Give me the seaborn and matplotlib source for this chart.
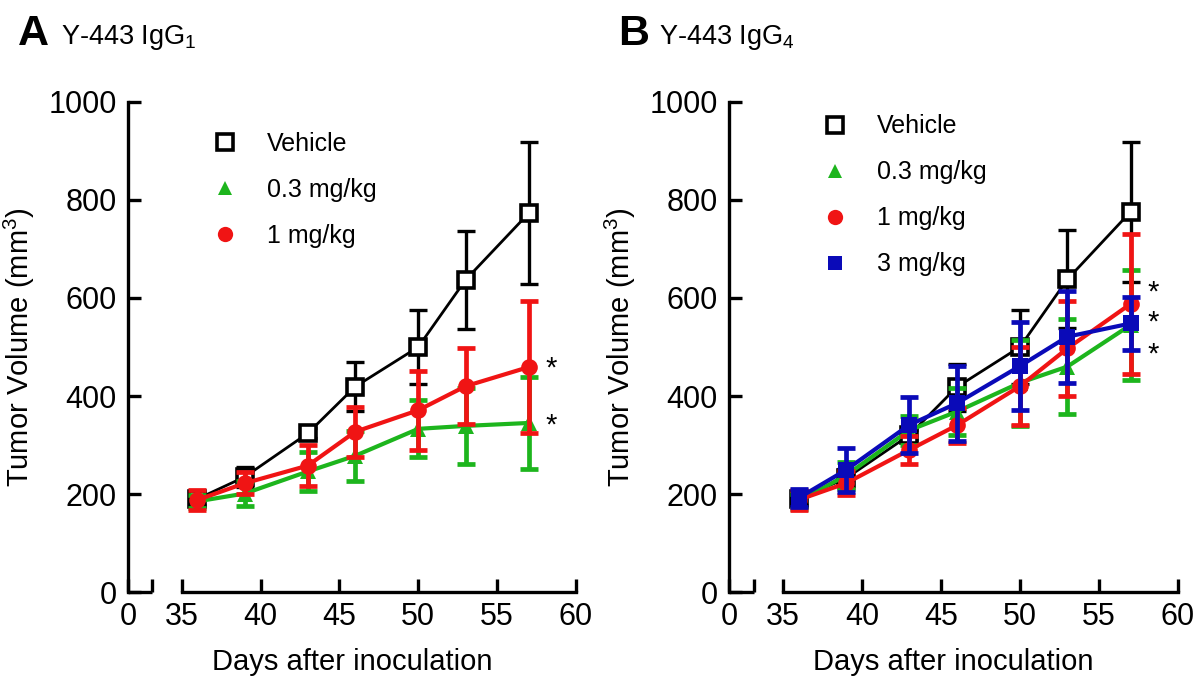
import numpy as np
import pandas as pd
import matplotlib
matplotlib.use('Agg')
import matplotlib.pyplot as plt
import seaborn as sns
from matplotlib.lines import Line2D

# ---- data (mean +/- SEM, mm^3) ----
days = [36, 39, 43, 46, 50, 53, 57]

groups_a = ['Vehicle', '0.3 mg/kg', '1 mg/kg']
mean_a_vehicle = [190, 235, 324, 419, 500, 637, 773]
sem_a_vehicle  = [12, 20, 10, 50, 75, 100, 145]
mean_a_03      = [185, 201, 246, 278, 333, 339, 345]
sem_a_03       = [14, 25, 39, 51, 58, 77, 93]
mean_a_1       = [188, 222, 258, 327, 371, 420, 459]
sem_a_1        = [21, 22, 42, 51, 81, 78, 135]

groups_b = ['Vehicle', '0.3 mg/kg', '1 mg/kg', '3 mg/kg']
mean_b_vehicle = [190, 232, 320, 418, 500, 638, 776]
sem_b_vehicle  = [12, 20, 10, 48, 76, 100, 143]
mean_b_03      = [185, 238, 330, 368, 427, 460, 545]
sem_b_03       = [15, 27, 29, 48, 88, 97, 112]
mean_b_1       = [188, 222, 290, 340, 420, 497, 588]
sem_b_1        = [20, 24, 28, 35, 79, 96, 143]
mean_b_3       = [192, 249, 341, 385, 461, 521, 548]
sem_b_3        = [18, 44, 57, 76, 90, 94, 54]

star_a = [455, 340]
star_b = [612, 550, 485]

xticks = [35, 40, 45, 50, 55, 60]
yticks = [0, 200, 400, 600, 800, 1000]

# ---- styles ----
STYLE = {
    'Vehicle':   dict(color='black',   marker='s', mfc='white',   ms=12, lw=2.0, mew=2.6),
    '0.3 mg/kg': dict(color='#1DB51D', marker='^', mfc='#1DB51D', ms=11, lw=3.0, mew=0),
    '1 mg/kg':   dict(color='#F01414', marker='o', mfc='#F01414', ms=12, lw=3.0, mew=0),
    '3 mg/kg':   dict(color='#0A0AB8', marker='s', mfc='#0A0AB8', ms=11, lw=3.0, mew=0),
}

sns.set_theme(style='ticks')
plt.rcParams['font.family'] = ['Liberation Sans', 'DejaVu Sans']
plt.rcParams['mathtext.default'] = 'regular'
plt.rcParams['axes.unicode_minus'] = False
plt.rcParams['text.color'] = 'black'
plt.rcParams['axes.labelcolor'] = 'black'
plt.rcParams['xtick.color'] = 'black'
plt.rcParams['ytick.color'] = 'black'

X_LEFT = 31.6   # where the y axis sits
X_ZERO = 33.15  # the lone "0" tick before the axis break
SPINE_W = 2.4


def draw_panel(ax, groups, means, sems, stars, leg_anchor):
    df = pd.DataFrame({
        'day': np.tile(days, len(groups)),
        'volume': np.concatenate(means),
        'sem': np.concatenate(sems),
        'group': np.repeat(groups, len(days)),
    })
    for i, g in enumerate(groups):
        sub = df[df['group'] == g]
        st = STYLE[g]
        ax.errorbar(sub['day'], sub['volume'], yerr=sub['sem'], fmt='none',
                    ecolor=st['color'], elinewidth=st['lw'] + 0.4, capsize=6.5,
                    capthick=st['lw'] + 0.4, zorder=3 + 2 * i, clip_on=False)
        sns.lineplot(data=sub, x='day', y='volume', ax=ax, color=st['color'],
                     lw=st['lw'], marker=st['marker'], markersize=st['ms'],
                     markerfacecolor=st['mfc'], markeredgecolor=st['color'],
                     markeredgewidth=st['mew'], zorder=4 + 2 * i, clip_on=False,
                     legend=False)

    for y in stars:
        ax.text(58.4, y, '*', fontsize=21, ha='center', va='center')

    ax.set_xlim(X_LEFT, 60)
    ax.set_ylim(0, 1000)
    ax.set_xticks([X_LEFT, X_ZERO] + xticks)
    ax.set_xticklabels(['0', ''] + [str(t) for t in xticks])
    ax.set_yticks(yticks)
    ax.tick_params(axis='both', direction='in', length=9.5, width=SPINE_W,
                   labelsize=22, colors='black')
    ax.tick_params(axis='x', pad=7)
    ax.tick_params(axis='y', pad=8)
    for s in ['top', 'right']:
        ax.spines[s].set_visible(False)
    ax.spines['left'].set_linewidth(SPINE_W)
    ax.spines['bottom'].set_linewidth(SPINE_W)
    ax.spines['left'].set_color('black')
    ax.spines['bottom'].set_color('black')
    ax.spines['bottom'].set_bounds(35, 60)
    # short segment left of the axis break
    ax.plot([X_LEFT, X_ZERO], [0, 0], color='black', lw=SPINE_W,
            solid_capstyle='butt', clip_on=False, zorder=10)

    ax.set_xlabel('Days after inoculation', fontsize=21, labelpad=12)
    ax.set_ylabel('Tumor Volume (mm$^3$)', fontsize=21, labelpad=8)

    handles = [Line2D([0], [0], linestyle='none', marker=STYLE[g]['marker'],
                      markersize=STYLE[g]['ms'] - 1, markerfacecolor=STYLE[g]['mfc'],
                      markeredgecolor=STYLE[g]['color'],
                      markeredgewidth=STYLE[g]['mew']) for g in groups]
    ax.legend(handles, groups, loc='upper left', bbox_to_anchor=leg_anchor,
              frameon=False, fontsize=18, handletextpad=1.2, labelspacing=0.88,
              borderpad=0, handlelength=1.0)


fig = plt.figure(figsize=(12, 6.78), dpi=100)
ax_a = fig.add_axes([0.1067, 0.1268, 0.3733, 0.7228])
ax_b = fig.add_axes([0.6075, 0.1268, 0.3742, 0.7228])

draw_panel(ax_a, groups_a, [mean_a_vehicle, mean_a_03, mean_a_1],
           [sem_a_vehicle, sem_a_03, sem_a_1], star_a, (0.16, 0.965))
draw_panel(ax_b, groups_b, [mean_b_vehicle, mean_b_03, mean_b_1, mean_b_3],
           [sem_b_vehicle, sem_b_03, sem_b_1, sem_b_3], star_b, (0.18, 1.0))

fig.text(0.015, 0.934, 'A', fontsize=31, fontweight='bold', va='baseline')
fig.text(0.051, 0.935, 'Y-443 IgG$_1$', fontsize=19.5, va='baseline')
fig.text(0.515, 0.934, 'B', fontsize=31, fontweight='bold', va='baseline')
fig.text(0.549, 0.935, 'Y-443 IgG$_4$', fontsize=19.5, va='baseline')

fig.savefig('out.png', dpi=100)
